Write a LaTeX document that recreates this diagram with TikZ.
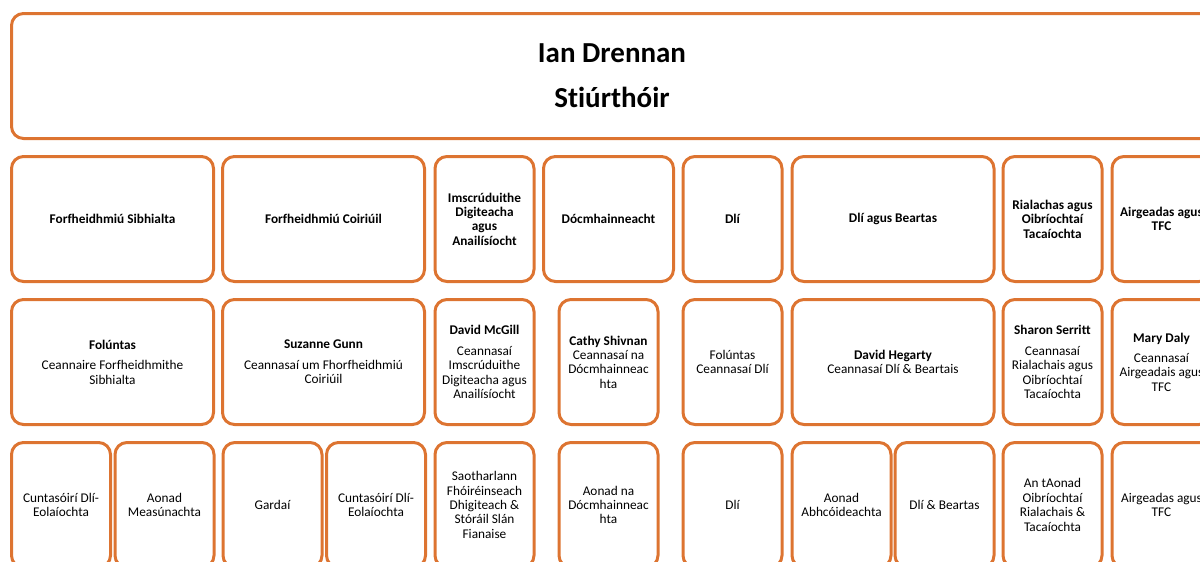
\documentclass[tikz,border=0pt]{standalone}
\usepackage{fontspec}
\setmainfont[Ligatures={NoCommon}]{Carlito}
\usepackage{xcolor}
\usepackage{tikz}
\usetikzlibrary{positioning}
\definecolor{burntorange}{HTML}{DD7431}

\begin{document}
\begin{tikzpicture}[x=1pt, y=-1pt,
    orgbox/.style={draw=burntorange, line width=3pt, rounded corners=12pt, align=center,
      inner sep=2pt, minimum height=125pt, font=\fontsize{13.3}{14.4}\selectfont},
    widebox/.style={orgbox, minimum width=202pt},
    midbox/.style={orgbox, minimum width=130pt},
    narrowbox/.style={orgbox, minimum width=99pt}]
    \useasboundingbox (0,0) rectangle (1200,562);
    \clip (0,0) rectangle (1200,562);
    % Director across the top
    \node[orgbox, minimum width=1201pt, font=\fontsize{29}{45}\selectfont\bfseries] (director) at (612,76)
      {Ian Drennan\\Stiúrthóir};
    % Row of divisions
    \node[widebox, font=\fontsize{13.3}{14.4}\selectfont\bfseries] (civil) at (112.5,219) {Forfheidhmiú Sibhialta};
    \node[widebox, font=\fontsize{13.3}{14.4}\selectfont\bfseries] (criminal) at (323.5,219) {Forfheidhmiú Coiriúil};
    \node[narrowbox, font=\fontsize{13.3}{14.4}\selectfont\bfseries] (digital) at (484.5,219) {Imscrúduithe\\Digiteacha\\agus\\Anailísíocht};
    \node[midbox, font=\fontsize{13.3}{14.4}\selectfont\bfseries] (docs) at (608.5,219) {Dócmhainneacht};
    \node[narrowbox, font=\fontsize{13.3}{14.4}\selectfont\bfseries] (legal) at (732.5,219) {Dlí};
    \node[widebox, font=\fontsize{13.3}{14.4}\selectfont\bfseries] (policy) at (893,219) {Dlí agus Beartas};
    \node[narrowbox, font=\fontsize{13.3}{14.4}\selectfont\bfseries] (governance) at (1052.5,219) {Rialachas agus\\Oibríochtaí\\Tacaíochta};
    \node[narrowbox, font=\fontsize{13.3}{14.4}\selectfont\bfseries] (finance) at (1161.5,219) {Airgeadas agus\\TFC};
    % Row of heads
    \node[widebox] (civilhead) at (112.5,362) {\textbf{Folúntas}\\[6pt]Ceannaire Forfheidhmithe\\Sibhialta};
    \node[widebox] (criminalhead) at (323.5,362) {\textbf{Suzanne Gunn}\\[6pt]Ceannasaí um Fhorfheidhmiú\\Coiriúil};
    \node[narrowbox] (digitalhead) at (484.5,362) {\textbf{David McGill}\\[6pt]Ceannasaí\\Imscrúduithe\\Digiteacha agus\\Anailísíocht};
    \node[narrowbox] (docshead) at (608.5,362) {\textbf{Cathy Shivnan}\\Ceannasaí na\\Dócmhainneac\\hta};
    \node[narrowbox] (legalhead) at (732.5,362) {Folúntas\\Ceannasaí Dlí};
    \node[widebox] (policyhead) at (893,362) {\textbf{David Hegarty}\\Ceannasaí Dlí \& Beartais};
    \node[narrowbox] (governancehead) at (1052.5,362) {\textbf{Sharon Serritt}\\[6pt]Ceannasaí\\Rialachais agus\\Oibríochtaí\\Tacaíochta};
    \node[narrowbox] (financehead) at (1161.5,362) {\textbf{Mary Daly}\\[6pt]Ceannasaí\\Airgeadais agus\\TFC};
    % Row of units
    \node[narrowbox] (civilacc) at (61,505) {Cuntasóirí Dlí-\\Eolaíochta};
    \node[narrowbox] (assess) at (164.5,505) {Aonad\\Measúnachta};
    \node[narrowbox] (gardai) at (272.5,505) {Gardaí};
    \node[narrowbox] (crimacc) at (376,505) {Cuntasóirí Dlí-\\Eolaíochta};
    \node[narrowbox] (forensic) at (484.5,505) {Saotharlann\\Fhóiréinseach\\Dhigiteach \&\\Stóráil Slán\\Fianaise};
    \node[narrowbox] (docsunit) at (608.5,505) {Aonad na\\Dócmhainneac\\hta};
    \node[narrowbox] (legalunit) at (732.5,505) {Dlí};
    \node[narrowbox] (advocacy) at (841.5,505) {Aonad\\Abhcóideachta};
    \node[narrowbox] (policyunit) at (944.5,505) {Dlí \& Beartas};
    \node[narrowbox] (opsunit) at (1052.5,505) {An tAonad\\Oibríochtaí\\Rialachais \&\\Tacaíochta};
    \node[narrowbox] (financeunit) at (1161.5,505) {Airgeadas agus\\TFC};
  \end{tikzpicture}
\end{document}
